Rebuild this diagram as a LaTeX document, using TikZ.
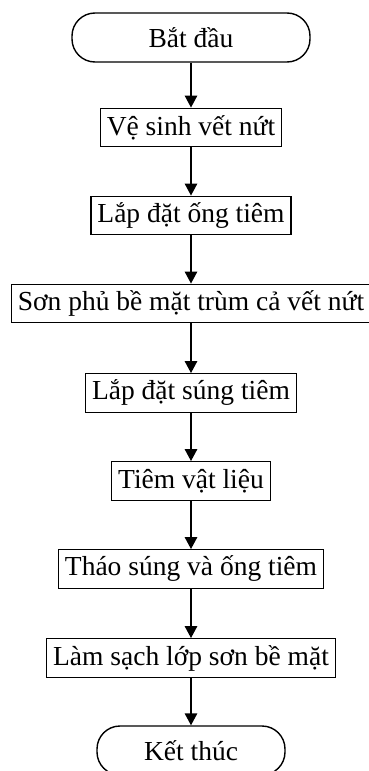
\documentclass[tikz,border=0pt]{standalone}
\usepackage{fontspec}
\setmainfont{Liberation Serif}
\usetikzlibrary{arrows.meta}
\begin{document}
\begin{tikzpicture}[x=1pt,y=-1pt,
  every node/.style={font=\fontsize{27.5}{30}\selectfont},
  stepbox/.style={draw,line width=1.4pt,rectangle,inner xsep=6.5pt,inner ysep=0pt,minimum height=38.5pt},
  term/.style={draw,line width=1.4pt,rectangle,rounded corners=23pt,minimum height=49pt},
  conn/.style={line width=1.4pt,-{Triangle[length=12pt,width=12.5pt]}}]
\useasboundingbox (0,0) rectangle (369,771);
\node[term,minimum width=238pt] (s) at (191,37.5) {Bắt đầu};
\node[stepbox] (b1) at (191,127.5) {Vệ sinh vết nứt};
\node[stepbox] (b2) at (191,215.5) {Lắp đặt ống tiêm};
\node[stepbox] (b3) at (191,303.5) {Sơn phủ bề mặt trùm cả vết nứt};
\node[stepbox] (b4) at (191,393) {Lắp đặt súng tiêm};
\node[stepbox] (b5) at (191,481) {Tiêm vật liệu};
\node[stepbox] (b6) at (191,569) {Tháo súng và ống tiêm};
\node[stepbox] (b7) at (191,658) {Làm sạch lớp sơn bề mặt};
\node[term,minimum width=188pt] (e) at (191,750.5) {Kết thúc};
\draw[conn] (s) -- (b1);
\draw[conn] (b1) -- (b2);
\draw[conn] (b2) -- (b3);
\draw[conn] (b3) -- (b4);
\draw[conn] (b4) -- (b5);
\draw[conn] (b5) -- (b6);
\draw[conn] (b6) -- (b7);
\draw[conn] (b7) -- (e);
\end{tikzpicture}
\end{document}
